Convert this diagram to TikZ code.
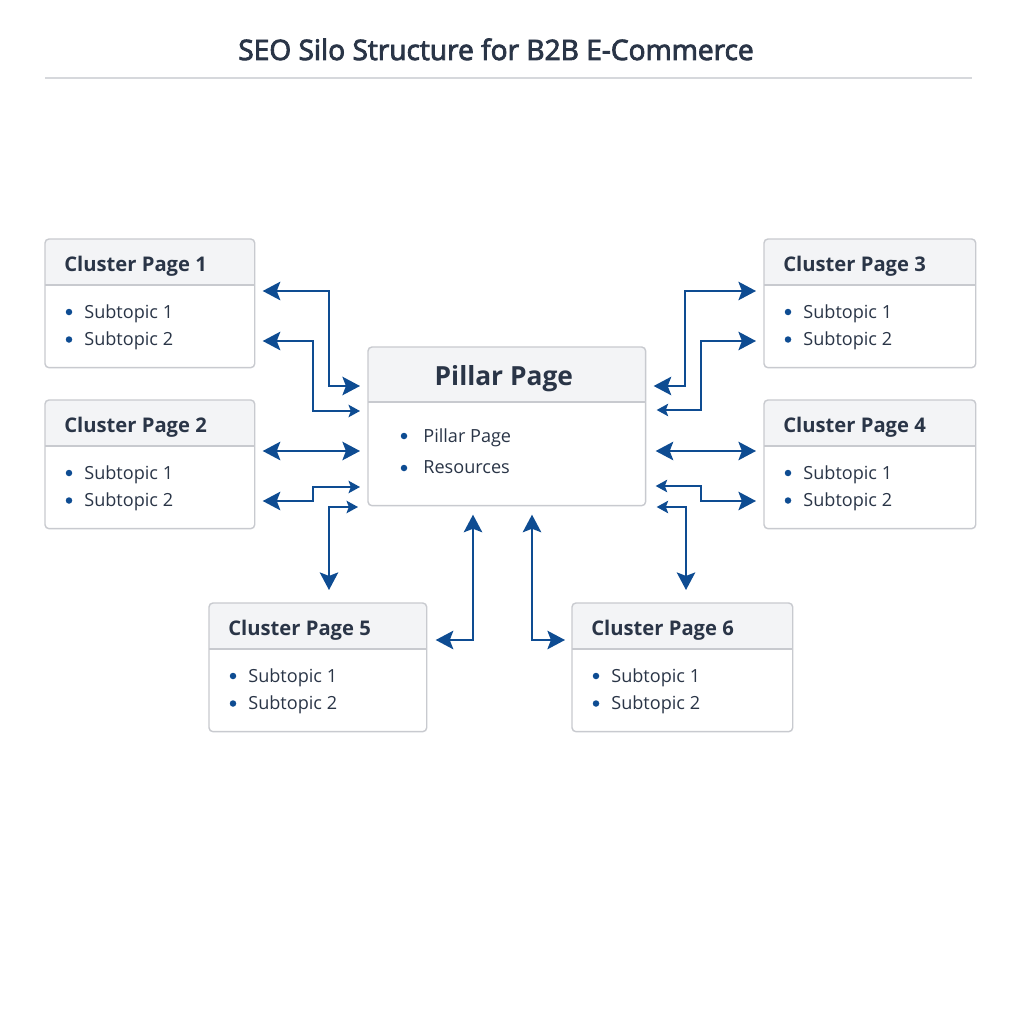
\documentclass[tikz,border=0pt]{standalone}
\usepackage{fontspec}
\setmainfont{Open Sans}
\newfontfamily\titlefont{Open Sans}[FakeBold=3]
\usetikzlibrary{arrows.meta, calc, positioning}
\definecolor{InkNavy}{RGB}{42,53,71}
\definecolor{LinkBlue}{RGB}{14,76,146}
\definecolor{CardLine}{RGB}{200,202,207}
\definecolor{HeadFill}{RGB}{243,244,246}
\definecolor{RuleGray}{RGB}{214,216,220}

\begin{document}
\begin{tikzpicture}[x=0.02cm, y=-0.02cm,
	card/.style={rectangle, fill=white, anchor=north west, inner sep=0pt,
		minimum height=2.56cm},
	cardedge/.style={draw=CardLine, line width=0.8pt, rounded corners=0.08cm},
	head/.style={anchor=base west, inner sep=0pt, text=InkNavy,
		font=\bfseries\fontsize{11.5}{13}\selectfont},
	item/.style={anchor=base west, inner sep=0pt, text=InkNavy,
		font=\fontsize{10.3}{12}\selectfont},
	dot/.style={circle, fill=LinkBlue, inner sep=0pt, minimum size=0.13cm},
	BigTip/.tip={Stealth[length=10pt, width=10.5pt, inset=2pt]},
	SmallTip/.tip={Stealth[length=6.5pt, width=7pt, inset=1.3pt]},
	link/.style={draw=LinkBlue, line width=1.3pt, shorten <=0.16cm, shorten >=0.16cm}]
	\useasboundingbox[fill=white] (0,0) rectangle (1024,1024);
	% titulo y regla
	\node[anchor=base, inner sep=0pt, text=InkNavy,
		font=\titlefont\fontsize{16}{19}\selectfont] (title) at (496,60)
		{SEO Silo Structure for B2B E-Commerce};
	\draw[RuleGray, line width=0.7pt] (45,78) -- (972,78);
	% paginas cluster
	\foreach \n/\x/\y/\w in {1/45/239/209, 2/45/400/209, 3/764/239/211,
		4/764/400/211, 5/209/603/217, 6/572/603/220}{
		\node[card, minimum width=\w*0.02cm] (c\n) at (\x,\y) {};
		\begin{scope}
			\clip[rounded corners=0.08cm] (c\n.north west) rectangle (c\n.south east);
			\fill[HeadFill] (c\n.north west) rectangle ($(c\n.north east)+(0,46)$);
		\end{scope}
		\draw[CardLine, line width=0.8pt] ($(c\n.north west)+(0,46)$) -- ($(c\n.north east)+(0,46)$);
		\draw[cardedge] (c\n.north west) rectangle (c\n.south east);
		\node[head] (c\n-head) at ($(c\n.north west)+(19,32.5)$) {Cluster Page \n};
		\foreach \k/\dy in {1/0, 2/27.5}{
			\node[dot] (c\n-dot\k) at ($(c\n.north west)+(24,73+\dy)$) {};
			\node[item] (c\n-sub\k) at ($(c\n.north west)+(39,79+\dy)$) {Subtopic \k};}
	}
	% pagina pilar
	\node[card, minimum width=5.54cm, minimum height=3.16cm] (pillar) at (368,347) {};
	\begin{scope}
		\clip[rounded corners=0.08cm] (pillar.north west) rectangle (pillar.south east);
		\fill[HeadFill] (pillar.north west) rectangle ($(pillar.north east)+(0,55)$);
	\end{scope}
	\draw[CardLine, line width=0.8pt] ($(pillar.north west)+(0,55)$) -- ($(pillar.north east)+(0,55)$);
	\draw[cardedge] (pillar.north west) rectangle (pillar.south east);
	\node[anchor=base, inner sep=0pt, text=InkNavy,
		font=\bfseries\fontsize{15}{18}\selectfont] (pillar-title) at ($(pillar.north)+(-3,38)$) {Pillar Page};
	\node[dot] (pillar-dot1) at ($(pillar.north west)+(36,89)$) {};
	\node[item] (pillar-item1) at ($(pillar.north west)+(55,95)$) {Pillar Page};
	\node[dot] (pillar-dot2) at ($(pillar.north west)+(36,121)$) {};
	\node[item] (pillar-item2) at ($(pillar.north west)+(55,126)$) {Resources};
	% enlaces izquierda
	\draw[link, BigTip-BigTip] (c1.east |- 0,291) -| (329,386) -- (pillar.west |- 0,386);
	\draw[link, BigTip-SmallTip] (c1.east |- 0,341) -| (313,411) -- (pillar.west |- 0,411);
	\draw[link, BigTip-BigTip] (c2.east |- 0,451) -- (pillar.west |- 0,451);
	\draw[link, BigTip-SmallTip] (c2.east |- 0,501) -| (313,487) -- (pillar.west |- 0,487);
	\draw[link, SmallTip-BigTip, shorten <=0.2cm, shorten >=0.26cm]
		(pillar.west |- 0,507) -| (c5.north -| 329,0);
	% enlaces derecha
	\draw[link, BigTip-BigTip, shorten <=0.16cm] (pillar.east |- 0,386) -| (685,291) -- (c3.west |- 0,291);
	\draw[link, SmallTip-BigTip, shorten <=0.22cm] (pillar.east |- 0,410) -| (701,341) -- (c3.west |- 0,341);
	\draw[link, BigTip-BigTip, shorten <=0.2cm] (pillar.east |- 0,451) -- (c4.west |- 0,451);
	\draw[link, SmallTip-BigTip, shorten <=0.2cm] (pillar.east |- 0,486) -| (701,501) -- (c4.west |- 0,501);
	\draw[link, SmallTip-BigTip, shorten <=0.22cm, shorten >=0.26cm]
		(pillar.east |- 0,507) -| (c6.north -| 686,0);
	% enlaces abajo
	\draw[link, BigTip-BigTip, shorten <=0.18cm, shorten >=0.18cm]
		(pillar.south -| 473,0) |- (c5.east |- 0,640);
	\draw[link, BigTip-BigTip, shorten <=0.18cm, shorten >=0.14cm]
		(pillar.south -| 532,0) |- (c6.west |- 0,640);
\end{tikzpicture}
\end{document}
